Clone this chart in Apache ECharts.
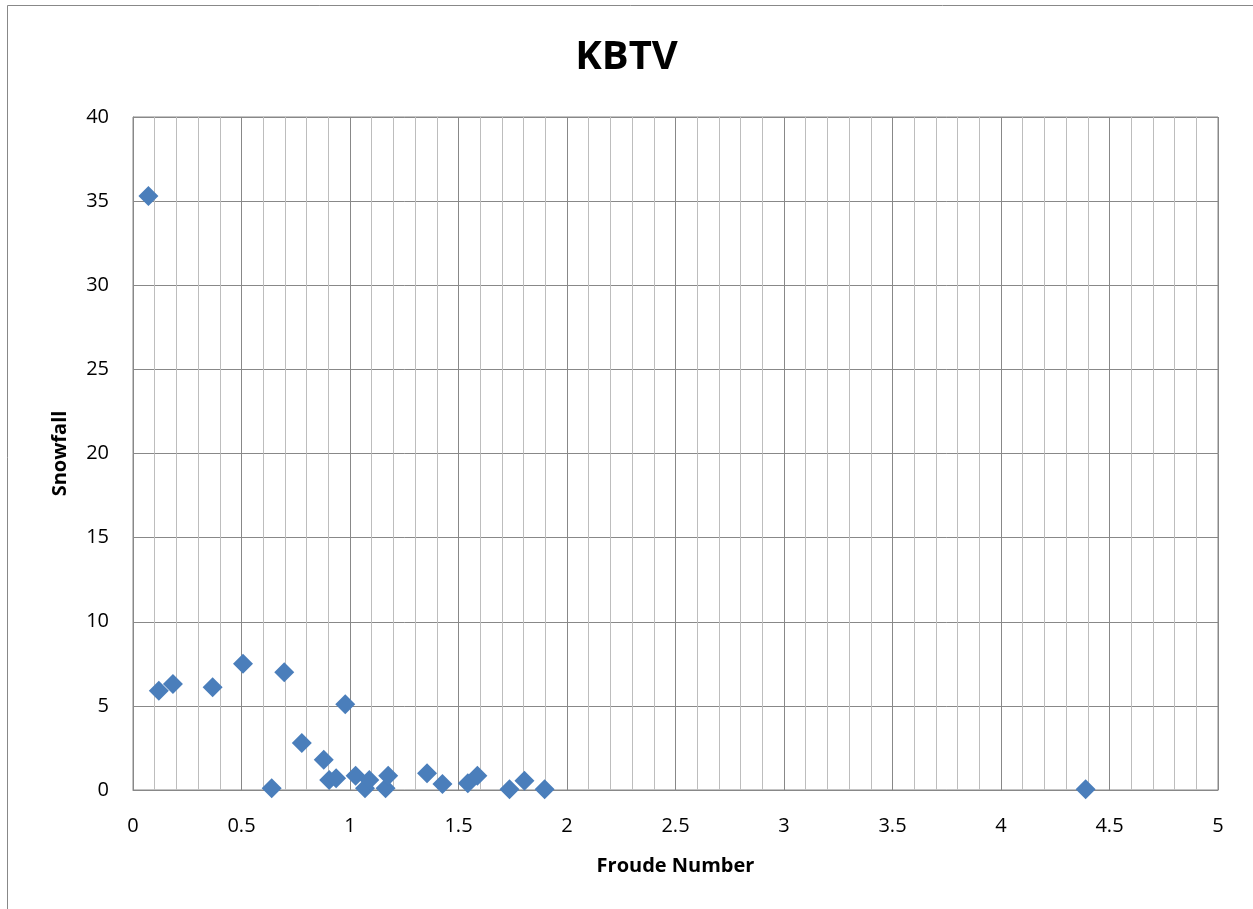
<!DOCTYPE html>
<html>
<head>
<meta charset="utf-8">
<script src="https://cdn.jsdelivr.net/npm/echarts@6/dist/echarts.min.js"></script>
<style>
  html, body { margin: 0; padding: 0; background: #fff; }
  #chart { width: 1253px; height: 909px; }
</style>
</head>
<body>
<div id="chart"></div>
<script>
// Froude number vs snowfall
var froude = [0.071, 0.119, 0.184, 0.367, 0.507, 0.639, 0.697, 0.778, 0.879, 0.904,
              0.936, 0.978, 1.026, 1.069, 1.089, 1.164, 1.176, 1.355, 1.426, 1.543,
              1.587, 1.735, 1.804, 1.897, 4.39];
var snowfall = [35.3, 5.9, 6.3, 6.1, 7.5, 0.1, 7.0, 2.8, 1.8, 0.6,
                0.7, 5.1, 0.85, 0.1, 0.6, 0.1, 0.85, 1.0, 0.35, 0.4,
                0.85, 0.05, 0.55, 0.05, 0.05];

var points = froude.map(function (x, i) { return [x, snowfall[i]]; });
var fontFam = '"Open Sans", "Liberation Sans", sans-serif';

var myChart = echarts.init(document.getElementById('chart'));
var option = {
  animation: false,
  backgroundColor: '#fff',
  title: {
    text: 'KBTV',
    left: 'center',
    top: 33,
    textStyle: { fontFamily: fontFam, fontSize: 40, fontWeight: 'bold', color: '#000' }
  },
  graphic: [{
    type: 'rect',
    shape: { x: 7.5, y: 5.5, width: 1400, height: 1000 },
    style: { fill: 'none', stroke: '#888', lineWidth: 1 }
  }],
  grid: { left: 133, right: 35, top: 117, bottom: 119, show: true, borderColor: '#888', borderWidth: 1 },
  xAxis: {
    type: 'value',
    min: 0, max: 5, interval: 0.5,
    name: 'Froude Number',
    nameLocation: 'middle',
    nameGap: 66,
    nameTextStyle: { fontFamily: fontFam, fontSize: 20, fontWeight: 'bold', color: '#000' },
    axisLine: { show: true, lineStyle: { color: '#888' } },
    axisTick: { show: false },
    axisLabel: { fontFamily: fontFam, fontSize: 20, color: '#000', margin: 26 },
    splitLine: { show: true, lineStyle: { color: '#888', width: 1 } },
    minorTick: { show: false, splitNumber: 5 },
    minorSplitLine: { show: true, lineStyle: { color: '#bdbdbd', width: 1 } }
  },
  yAxis: {
    type: 'value',
    min: 0, max: 40, interval: 5,
    name: 'Snowfall',
    nameLocation: 'middle',
    nameGap: 63,
    nameTextStyle: { fontFamily: fontFam, fontSize: 20, fontWeight: 'bold', color: '#000' },
    axisLine: { show: true, lineStyle: { color: '#888' } },
    axisTick: { show: false },
    axisLabel: { fontFamily: fontFam, fontSize: 20, color: '#000', margin: 24 },
    splitLine: { show: true, lineStyle: { color: '#888', width: 1 } }
  },
  series: [{
    type: 'scatter',
    symbol: 'diamond',
    symbolSize: 20,
    itemStyle: { color: '#4a7ebb', opacity: 1 },
    data: points
  }]
};
myChart.setOption(option);
</script>
</body>
</html>
